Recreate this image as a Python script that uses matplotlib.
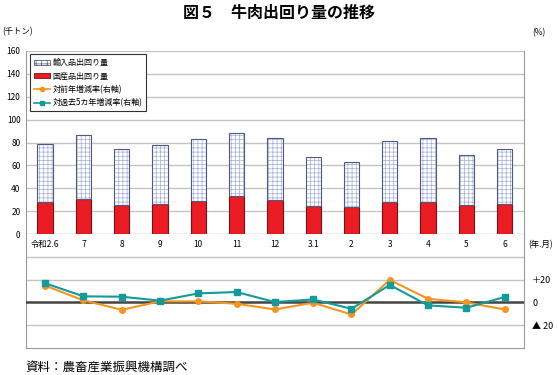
import numpy as np
import matplotlib
matplotlib.use('Agg')
import matplotlib.pyplot as plt
from matplotlib.patches import Patch
from matplotlib.lines import Line2D

plt.rcParams['font.family'] = ['Noto Sans CJK JP', 'DejaVu Sans']
plt.rcParams['hatch.linewidth'] = 0.5

# データ（千トン、%）
months = ['令和2.6', '7', '8', '9', '10', '11', '12', '3.1', '2', '3', '4', '5', '6']
kokusan = [28.2, 30.5, 25.3, 25.9, 28.8, 32.9, 30.0, 24.4, 23.3, 27.6, 27.9, 25.0, 25.9]
yunyu = [50.3, 56.2, 48.9, 51.8, 54.1, 55.5, 53.5, 42.5, 39.5, 54.1, 55.9, 44.5, 48.3]
zennen = [14.7, 1.8, -6.5, 0.9, 0.9, -1.2, -6.2, -0.3, -10.6, 19.7, 3.2, 0.0, -6.2]
kako5 = [16.8, 5.3, 5.0, 1.5, 7.9, 9.1, 0.3, 2.6, -5.6, 15.3, -2.6, -4.7, 4.7]

grid_c = '#c4c4c4'
red = '#ec1c24'
orange = '#f7941d'
teal = '#139a9a'
x = np.arange(len(months))

fig = plt.figure(figsize=(5.58, 3.75), dpi=100)
ax = fig.add_axes([0.0466, 0.376, 0.892, 0.488])
ax2 = fig.add_axes([0.0466, 0.072, 0.892, 0.304])

# 上段：棒グラフ
w = 0.4
ax.bar(x, kokusan, w, color=red, edgecolor='#7a1010', linewidth=0.8, zorder=3)
ax.bar(x, yunyu, w, bottom=kokusan, color='white', edgecolor='#a4acdc',
       hatch='++++', linewidth=0, zorder=3)
ax.bar(x, yunyu, w, bottom=kokusan, fill=False, edgecolor='#505a80',
       linewidth=0.8, zorder=4)
ax.set_xlim(-0.5, len(months) - 0.5)
ax.set_ylim(0, 160)
ax.set_yticks(range(0, 161, 20))
ax.grid(axis='y', color=grid_c, linewidth=1)
ax.set_axisbelow(True)
ax.set_xticks(x[:-1] + 0.5)
ax.set_xticklabels([])
ax.tick_params(axis='x', length=3, color='#888888', direction='out')
ax.tick_params(axis='y', length=0, labelsize=6, pad=4)
ax.spines['top'].set_visible(False)
for s in ['left', 'right', 'bottom']:
    ax.spines[s].set_color('#999999')

handles = [
    Patch(facecolor='white', edgecolor='#505a80', hatch='+++', linewidth=0.6),
    Patch(facecolor=red, edgecolor='#7a1010', linewidth=0.6),
    Line2D([], [], color=orange, marker='o', markersize=3, linewidth=1.2),
    Line2D([], [], color=teal, marker='s', markersize=3, linewidth=1.2),
]
labels = ['輸入品出回り量', '国産品出回り量', '対前年増減率(右軸)', '対過去5カ年増減率(右軸)']
leg = ax.legend(handles, labels, loc='upper left', bbox_to_anchor=(0.008, 0.984),
                borderaxespad=0, fontsize=5.8, fancybox=False, framealpha=1,
                edgecolor='#333333', handlelength=2.0, handleheight=0.6,
                handletextpad=0.3, labelspacing=0.55, borderpad=0.5)
leg.get_frame().set_linewidth(0.8)

# 下段：折れ線グラフ
ax2.plot(x, zennen, color=orange, marker='o', markersize=4, linewidth=1.5, zorder=4)
ax2.plot(x, kako5, color=teal, marker='s', markersize=4.5, linewidth=1.5, zorder=5)
ax2.axhline(0, color='#444444', linewidth=1.8, zorder=3)
ax2.set_xlim(-0.5, len(months) - 0.5)
ax2.set_ylim(-40, 60)
for yv in [-20, 20, 40]:
    ax2.axhline(yv, color=grid_c, linewidth=1, zorder=1)
ax2.set_xticks([])
ax2.yaxis.tick_right()
ax2.set_yticks([20, 0, -20])
ax2.set_yticklabels(['＋20', '0', '▲ 20'])
ax2.tick_params(axis='y', length=0, labelsize=6.5, pad=6)
ax2.spines['top'].set_visible(False)
for s in ['left', 'right', 'bottom']:
    ax2.spines[s].set_color('#999999')
for i, m in enumerate(months):
    ax2.text(i, 51, m, ha='center', va='center', fontsize=6)
ax2.text(1.01, 51, '(年.月)', transform=ax2.get_yaxis_transform(),
         ha='left', va='center', fontsize=6)

fig.text(0.5, 0.965, '図５　牛肉出回り量の推移', ha='center', va='center',
         fontsize=11.5, fontweight='bold')
fig.text(0.004, 0.915, '(千トン)', ha='left', va='center', fontsize=6)
fig.text(0.965, 0.912, '(%)', ha='center', va='center', fontsize=6)
fig.text(0.045, 0.022, '資料：農畜産業振興機構調べ', ha='left', va='center', fontsize=9)

fig.savefig('out.png', dpi=100)
